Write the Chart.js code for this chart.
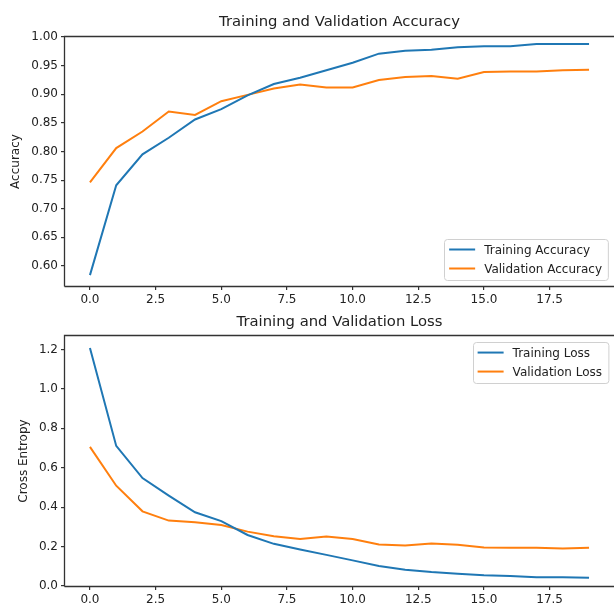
<!DOCTYPE html>
<html><head><meta charset="utf-8">
<script src="https://cdn.jsdelivr.net/npm/chart.js@4/dist/chart.umd.min.js"></script>
<style>
html,body{margin:0;padding:0;background:#fff;}
#wrap{position:relative;width:614px;height:605px;overflow:hidden;}
.box{position:absolute;left:0;width:614px;}
</style></head><body>
<div id="wrap">
  <div class="box" style="top:0;height:310px"><canvas id="acc" width="614" height="310"></canvas></div>
  <div class="box" style="top:310px;height:295px"><canvas id="loss" width="614" height="295"></canvas></div>
</div>
<script>
// epochs and history
const epochs    = [0,1,2,3,4,5,6,7,8,9,10,11,12,13,14,15,16,17,18,19];
const accTrain  = [0.584,0.741,0.795,0.824,0.856,0.874,0.898,0.918,0.929,0.942,0.955,0.971,0.976,0.978,0.982,0.984,0.984,0.988,0.988,0.988];
const accVal    = [0.746,0.806,0.835,0.870,0.864,0.888,0.899,0.910,0.917,0.912,0.912,0.925,0.930,0.932,0.927,0.939,0.940,0.940,0.942,0.943];
const lossTrain = [1.208,0.711,0.548,0.459,0.374,0.329,0.259,0.214,0.185,0.158,0.130,0.101,0.083,0.071,0.062,0.054,0.051,0.045,0.045,0.042];
const lossVal   = [0.706,0.509,0.379,0.332,0.324,0.310,0.276,0.253,0.239,0.251,0.239,0.211,0.206,0.216,0.209,0.195,0.194,0.194,0.190,0.194];
const xTicks    = [0,2.5,5,7.5,10,12.5,15,17.5];
const accTicks  = [0.60,0.65,0.70,0.75,0.80,0.85,0.90,0.95,1.00];
const lossTicks = [0,0.2,0.4,0.6,0.8,1.0,1.2];

const BLUE="#1f77b4", ORANGE="#ff7f0e", INK="#222", SPINE="#333", FONT="'DejaVu Sans', sans-serif";

// matplotlib-ish spines (left, top, bottom; right one falls off the picture)
const spines = { id:"spines", afterDatasetsDraw(c){
  const a=c.chartArea, g=c.ctx; g.save(); g.strokeStyle=SPINE; g.lineWidth=1.3;
  g.beginPath();
  g.moveTo(Math.round(a.left)-.5, Math.round(a.bottom)+.5); g.lineTo(Math.round(a.left)-.5, Math.round(a.top)-.5);
  g.lineTo(a.right+2, Math.round(a.top)-.5);
  g.moveTo(Math.round(a.left)-.5, Math.round(a.bottom)+.5); g.lineTo(a.right+2, Math.round(a.bottom)+.5);
  g.stroke(); g.restore();
}};

// legend box inside the axes, like plt.legend(loc=...)
const boxLegend = { id:"boxLegend", afterDraw(c, args, o){
  const g=c.ctx, a=c.chartArea, ds=c.data.datasets;
  g.save(); g.font="12px "+FONT;
  const tw=Math.max(...ds.map(d=>g.measureText(d.label).width));
  const w=40+tw+6, h=41, x=a.right-6-w, y=o.pos==="lr" ? a.bottom-6-h : a.top+6;
  g.fillStyle="rgba(255,255,255,0.85)"; g.strokeStyle="#d0d0d0"; g.lineWidth=1;
  g.beginPath(); g.roundRect(Math.round(x)+.5, Math.round(y)+.5, w, h, 3); g.fill(); g.stroke();
  ds.forEach((d,i)=>{ const yy=y+10.5+i*19;
    g.strokeStyle=d.borderColor; g.lineWidth=2; g.beginPath(); g.moveTo(x+5,yy); g.lineTo(x+31,yy); g.stroke();
    g.fillStyle=INK; g.textBaseline="middle"; g.textAlign="left"; g.fillText(d.label, x+40, yy+1); });
  g.restore();
}};

function line(label, data, color){
  return { label, data:epochs.map((e,i)=>({x:e,y:data[i]})), borderColor:color, backgroundColor:color,
           borderWidth:2, pointRadius:0, tension:0, fill:false };
}
function tickGrid(){ return { display:true, drawOnChartArea:false, drawTicks:true, tickLength:4, color:SPINE, lineWidth:1.2 }; }

function makeChart(id, cfg){
  return new Chart(document.getElementById(id), {
    type:"line",
    data:{ datasets:[ line(cfg.l1, cfg.d1, BLUE), line(cfg.l2, cfg.d2, ORANGE) ] },
    plugins:[spines, boxLegend],
    options:{
      responsive:false, animation:false, devicePixelRatio:1,
      layout:{ padding:{left:0,right:0,top:0,bottom:0} },
      plugins:{
        legend:{display:false}, tooltip:{enabled:false},
        title:{ display:true, text:cfg.title, fullSize:false, color:INK,
                font:{family:FONT,size:14.8,weight:"normal"}, padding:cfg.titlePad },
        boxLegend:{ pos:cfg.legendPos }
      },
      scales:{
        x:{ type:"linear", min:-0.95, max:19.95,
            afterBuildTicks:s=>{ s.ticks=xTicks.map(v=>({value:v})); },
            afterFit:s=>{ s.height=cfg.xH; },
            ticks:{ autoSkip:false, maxRotation:0, padding:3, color:INK, font:{family:FONT,size:12},
                    callback:v=>Number(v).toFixed(1) },
            grid:tickGrid(), border:{display:false} },
        y:{ type:"linear", min:cfg.yMin, max:cfg.yMax,
            afterBuildTicks:s=>{ s.ticks=cfg.yTicks.map(v=>({value:v})); },
            afterFit:s=>{ s.width=65; },
            ticks:{ autoSkip:false, padding:3, color:INK, font:{family:FONT,size:12},
                    callback:v=>Number(v).toFixed(cfg.dec) },
            grid:tickGrid(), border:{display:false},
            title:{ display:true, text:cfg.yTitle, color:INK, font:{family:FONT,size:12}, padding:{top:cfg.yTitleOff,bottom:0} } }
      }
    }
  });
}

makeChart("acc", { title:"Training and Validation Accuracy", l1:"Training Accuracy", d1:accTrain, l2:"Validation Accuracy", d2:accVal,
  yMin:0.565, yMax:1.0, yTicks:accTicks, dec:2, yTitle:"Accuracy", yTitleOff:9, xH:24,
  titlePad:{top:13.1,bottom:6.2}, legendPos:"lr" });
makeChart("loss", { title:"Training and Validation Loss", l1:"Training Loss", d1:lossTrain, l2:"Validation Loss", d2:lossVal,
  yMin:0, yMax:1.2685, yTicks:lossTicks, dec:1, yTitle:"Cross Entropy", yTitleOff:17, xH:19,
  titlePad:{top:3.1,bottom:5.2}, legendPos:"ur" });
</script>
</body></html>
